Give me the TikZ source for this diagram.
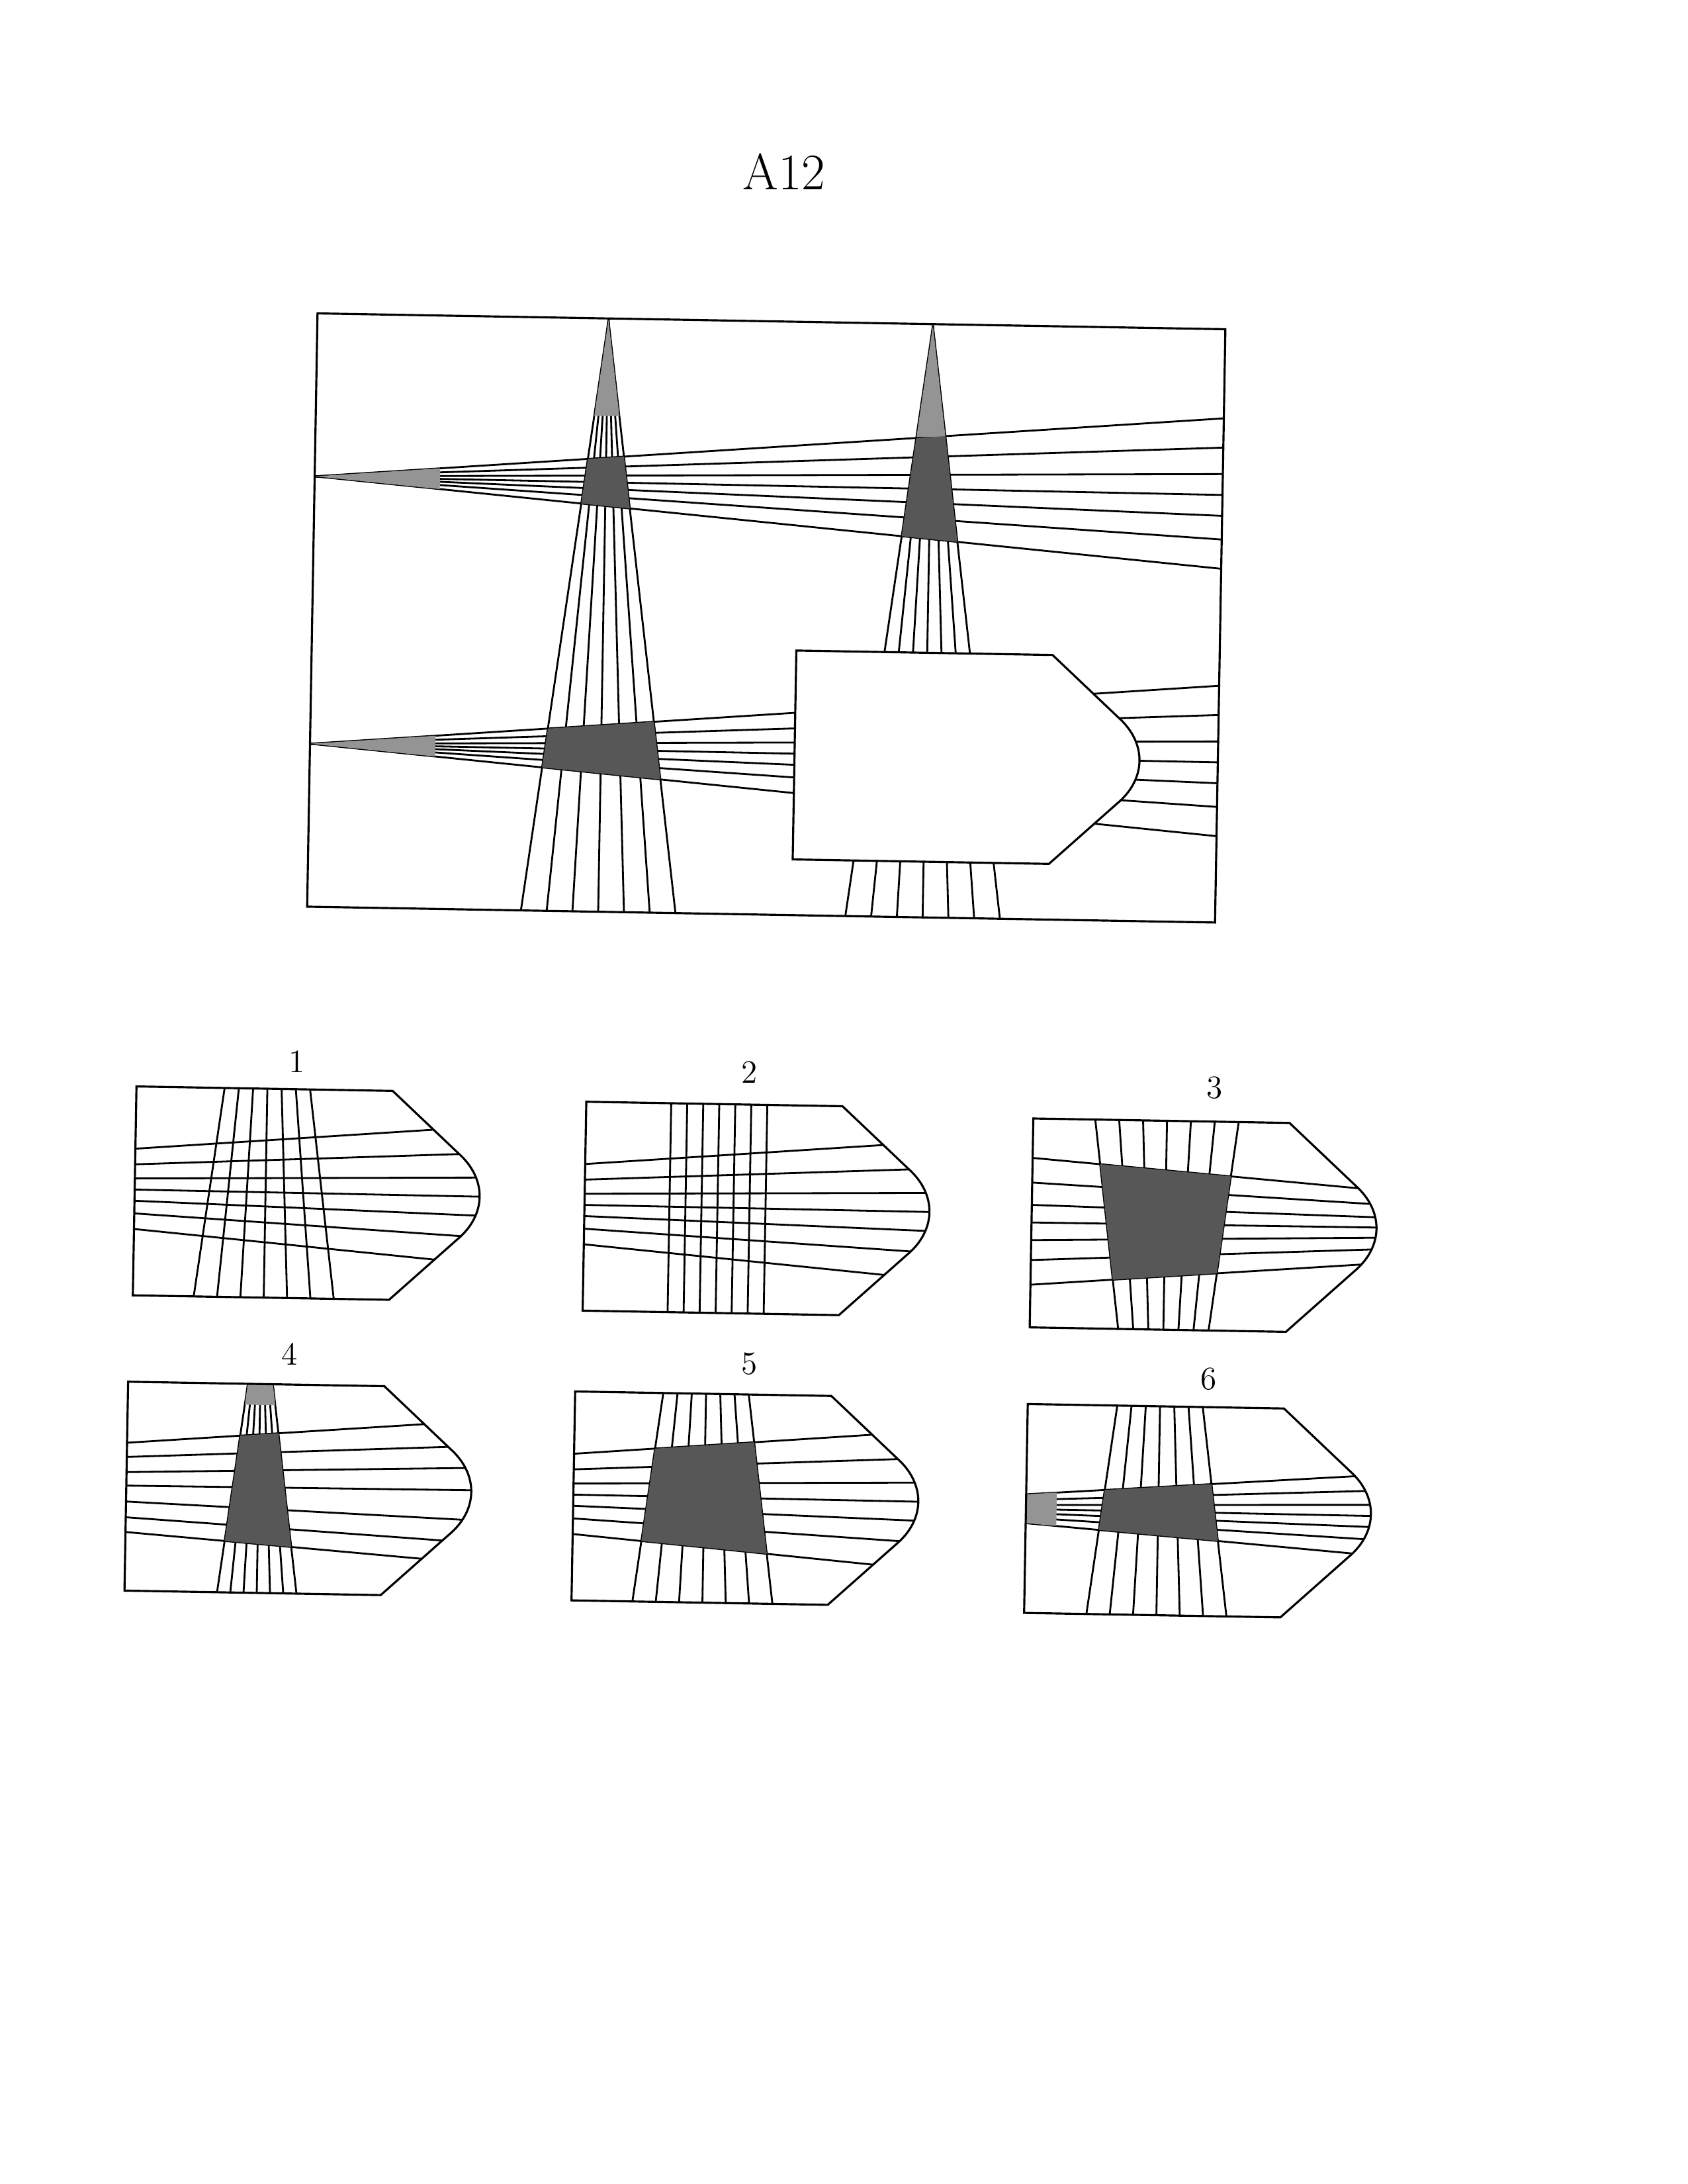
\documentclass[tikz,border=0pt]{standalone}
\usepackage{tikz}

% Umriss des fehlenden Stuecks (und der Antwortteile)
\newcommand{\umriss}{(0,0) -- (184,0) -- (232,44) .. controls (253,62) and (253,88) .. (232,106) -- (184,150) -- (0,150) -- cycle}
% unterer Faecher und rechter Turm im Hauptbild
\newcommand{\faecherunten}{\foreach \dy in {-53,-32,-13,2,17,34,55} {\draw[linie] (0,309) -- (652,{309+\dy});}}
\newcommand{\turmrechts}{\foreach \dx in {-55.5,-37,-18.5,0,18.5,37,55.5} {\draw[linie] (442,1) -- ({442+\dx},426);}}

\begin{document}
\begin{tikzpicture}[x=0.02104cm, y=-0.02104cm]
  \tikzset{
    linie/.style={line width=0.8pt},
    rahmen/.style={line width=0.9pt},
    kreuzung/.style={fill=black!66},
    spitze/.style={fill=black!42},
    nummer/.style={font=\fontsize{14}{16}\selectfont}
  }
  \useasboundingbox (0,0) rectangle (1212,1568);

  % --- 1. Titel ---
  \node[font=\fontsize{22}{26}\selectfont] (titel) at (563,123) {A12};

  % --- 2. Hauptbild (zwei Faecher, zwei Tuerme) ---
  \begin{scope}[shift={(228,225)}, rotate=-1]
    \begin{scope}
      \clip (0,0) rectangle (652,426);
      % Linien
      \foreach \dy in {-53,-32,-13,2,17,34,55}
        \draw[linie] (0,117) -- (652,{117+\dy});
      \faecherunten
      \foreach \dx in {-55.5,-37,-18.5,0,18.5,37,55.5}
        \draw[linie] (209,1) -- ({209+\dx},426);
      \turmrechts
      % Spitzen: dicht zusammenlaufende Linien
      \fill[spitze] (0,117) -- (90,109.7) -- (90,124.6) -- cycle;
      \fill[spitze] (0,309) -- (90,301.7) -- (90,316.6) -- cycle;
      \fill[spitze] (209,1) -- (200,70) -- (218,70) -- cycle;
      \fill[spitze] (442,1) -- (431.6,81) -- (452.4,81) -- cycle;
      % Kreuzungen oben
      \begin{scope}
        \clip (0,117) -- (652,64) -- (652,172) -- cycle;
        \fill[kreuzung] (209,1) -- (153.5,426) -- (264.5,426) -- cycle;
        \fill[kreuzung] (442,1) -- (386.5,426) -- (497.5,426) -- cycle;
      \end{scope}
      % Kreuzung unten links
      \begin{scope}
        \clip (0,309) -- (652,256) -- (652,364) -- cycle;
        \fill[kreuzung] (209,1) -- (153.5,426) -- (264.5,426) -- cycle;
      \end{scope}
    \end{scope}
    % Luecke
    \draw[rahmen, fill=white, shift={(348,236)}] \umriss;
    \draw[rahmen] (0,0) rectangle (652,426);
  \end{scope}

  % --- 3. Antwort 1 ---
  \node[nummer] (nr1) at (213,762) {1};
  \begin{scope}[shift={(98,780)}, rotate=-1]
    \begin{scope}
      \clip \umriss;
      \begin{scope}[shift={(-348,-236)}]
        \faecherunten
        \turmrechts
      \end{scope}
    \end{scope}
    \draw[rahmen] \umriss;
  \end{scope}

  % --- 4. Antwort 2 ---
  \node[nummer] (nr2) at (538,770) {2};
  \begin{scope}[shift={(421,791)}, rotate=-1]
    \begin{scope}
      \clip \umriss;
      \foreach \x in {61,72.5,84,95.5,107,118.5,130}
        \draw[linie] (\x,0) -- (\x,150);
      \begin{scope}[shift={(-348,-236)}]
        \faecherunten
      \end{scope}
    \end{scope}
    \draw[rahmen] \umriss;
  \end{scope}

  % --- 5. Antwort 3 ---
  \node[nummer] (nr3) at (872,781) {3};
  \begin{scope}[shift={(742,803)}, rotate=-1]
    \begin{scope}
      \clip \umriss;
      \foreach \dx in {-55.5,-37,-18.5,0,18.5,37,55.5}
        \draw[linie] ({96+0.928*\dx},0) -- ({96+0.585*\dx},150);
      \foreach \dy in {-53,-32,-13,2,17,34,55}
        \draw[linie] (0,{73+0.843*\dy}) -- (250,{73+0.486*\dy});
      \begin{scope}
        \clip (0,28.3) -- (250,47.2) -- (250,99.7) -- (0,119.4) -- cycle;
        \fill[kreuzung] (44.5,0) -- (147.5,0) -- (128.5,150) -- (63.5,150) -- cycle;
      \end{scope}
    \end{scope}
    \draw[rahmen] \umriss;
  \end{scope}

  % --- 6. Antwort 4 ---
  \node[nummer] (nr4) at (208,972) {4};
  \begin{scope}[shift={(92,992)}, rotate=-1]
    \begin{scope}
      \clip \umriss;
      \foreach \dx in {-55.5,-37,-18.5,0,18.5,37,55.5}
        \draw[linie] ({95+0.162*\dx},0) -- ({95+0.514*\dx},150);
      \foreach \l/\r in {43.8/23.8, 54/41.8, 64.9/57.5, 74.6/73.6, 86/95.2, 97.3/111.3, 107.9/126.1}
        \draw[linie] (0,\l) -- (250,\r);
      \fill[spitze] (86,0) -- (104,0) -- (105.95,15) -- (84.05,15) -- cycle;
      \begin{scope}
        \clip (0,43.8) -- (250,23.8) -- (250,126.1) -- (0,107.9) -- cycle;
        \fill[kreuzung] (86,0) -- (104,0) -- (123.5,150) -- (66.5,150) -- cycle;
      \end{scope}
    \end{scope}
    \draw[rahmen] \umriss;
  \end{scope}

  % --- 7. Antwort 5 ---
  \node[nummer] (nr5) at (538,979) {5};
  \begin{scope}[shift={(413,999)}, rotate=-1]
    \begin{scope}
      \clip \umriss;
      \begin{scope}[shift={(-348,-236)}]
        \faecherunten
        \turmrechts
        \begin{scope}
          \clip (0,309) -- (652,256) -- (652,364) -- cycle;
          \fill[kreuzung] (442,1) -- (386.5,426) -- (497.5,426) -- cycle;
        \end{scope}
      \end{scope}
    \end{scope}
    \draw[rahmen] \umriss;
  \end{scope}

  % --- 8. Antwort 6 ---
  \node[nummer] (nr6) at (868,990) {6};
  \begin{scope}[shift={(738,1008)}, rotate=-1]
    \begin{scope}
      \clip \umriss;
      \foreach \dx in {-55.5,-37,-18.5,0,18.5,37,55.5}
        \draw[linie] ({95+0.553*\dx},0) -- ({95+0.906*\dx},150);
      \foreach \dy in {-53,-32,-13,2,17,34,55}
        \draw[linie] (0,{75+0.1918*\dy}) -- (250,{75+0.534*\dy});
      \fill[spitze] (0,64.8) -- (22,63.2) -- (22,87.2) -- (0,85.5) -- cycle;
      \begin{scope}
        \clip (0,64.8) -- (250,46.7) -- (250,104.4) -- (0,85.5) -- cycle;
        \fill[kreuzung] (64.3,0) -- (125.7,0) -- (145.3,150) -- (44.7,150) -- cycle;
      \end{scope}
    \end{scope}
    \draw[rahmen] \umriss;
  \end{scope}

\end{tikzpicture}
\end{document}
